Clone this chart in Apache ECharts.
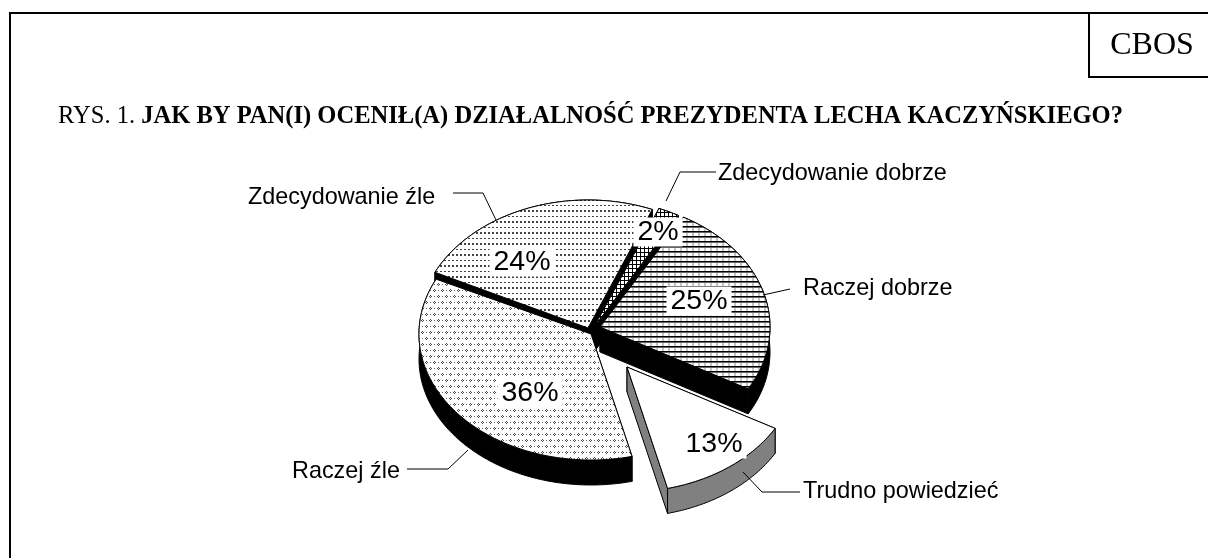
<!DOCTYPE html>
<html lang="pl">
<head>
    <meta charset="UTF-8">
    <title>CBOS rys. 1</title>
    <script src="https://cdn.jsdelivr.net/npm/echarts@6/dist/echarts.min.js"></script>
    <style>
        html, body { margin: 0; padding: 0; background: #fff; }
    </style>
</head>
<body>
<div id="main" style="width:1208px;height:558px;"></div>
<script type="text/javascript">
    // data
    const categories = ['Zdecydowanie dobrze', 'Raczej dobrze', 'Trudno powiedzieć', 'Raczej źle', 'Zdecydowanie źle'];
    const values = [2, 25, 13, 36, 24];

    // layout of the fake 3d pie, one entry per category
    const apexX = [594, 600, 627, 591, 588];
    const apexY = [327, 327, 367, 334, 328];
    const radiusX = [172, 170, 170, 172, 170];
    const radiusY = [128, 126, 125, 126, 128];
    const paintOrder = [1, 3, 5, 4, 2];   // tops, back to front
    const patternNames = ['grid', 'brick', 'none', 'dots', 'rows'];
    const sideColors = ['#000', '#000', '#808080', '#000', '#000'];
    const percentX = [658, 699, 714, 530, 522];
    const percentY = [232, 301, 444, 393, 262];
    const nameX = [718, 803, 803, 292, 248];
    const nameY = [174, 289, 492, 472, 198];
    const leaders = [
        [[716, 172], [680, 172], [666, 201]],
        [[790, 289], [763, 295]],
        [[800, 492], [762, 492], [743, 472]],
        [[407, 469], [448, 469], [468, 450]],
        [[453, 193], [483, 193], [496, 220]]
    ];
    const startAngle = 22.2;
    const depth = 25;

    // hatch tiles, fill rects are [x, y, w, h, colour]
    function tile(w, h, rects) {
        const c = document.createElement('canvas');
        c.width = w;
        c.height = h;
        const ctx = c.getContext('2d');
        ctx.fillStyle = '#fff';
        ctx.fillRect(0, 0, w, h);
        rects.forEach(function (r) {
            ctx.fillStyle = r[4];
            ctx.fillRect(r[0], r[1], r[2], r[3]);
        });
        return {image: c, repeat: 'repeat'};
    }

    const patterns = {
        none: '#fff',
        rows: tile(4, 11, [[0, 1, 2, 2, '#444'], [0, 7, 2, 1, '#444']]),
        dots: tile(8, 12, [
            [2, 1, 1, 1, '#444'], [1, 2, 1, 1, '#444'], [3, 2, 1, 1, '#444'], [2, 3, 1, 1, '#444'],
            [6, 7, 1, 1, '#444'], [5, 8, 1, 1, '#444'], [7, 8, 1, 1, '#444'], [6, 9, 1, 1, '#444'],
            [6, 2, 1, 1, '#666'], [2, 8, 1, 1, '#666']
        ]),
        brick: tile(6, 5, [[2, 0, 2, 5, '#c4c4c4'], [0, 1, 6, 1, '#000'], [0, 2, 6, 1, '#666']]),
        grid: tile(4, 4, [[0, 0, 1, 4, '#000'], [0, 0, 4, 1, '#000']])
    };

    const serif = '"Liberation Serif", "Times New Roman", serif';
    const sans = '"Liberation Sans", Arial, sans-serif';

    function arcPoints(i, from, to, shift) {
        const pts = [];
        const steps = Math.max(2, Math.ceil(to - from));
        for (let s = 0; s <= steps; s++) {
            const a = (from + (to - from) * s / steps) * Math.PI / 180;
            pts.push([apexX[i] + radiusX[i] * Math.sin(a), apexY[i] - radiusY[i] * Math.cos(a) + shift]);
        }
        return pts;
    }

    function renderSlice(params, api) {
        const i = params.dataIndex;
        const value = api.value(1);
        const total = values.reduce(function (a, b) { return a + b; }, 0);
        let before = 0;
        for (let k = 0; k < i; k++) before += values[k];
        const from = startAngle + before / total * 360;
        const to = from + value / total * 360;

        const top = arcPoints(i, from, to, 0);
        const low = arcPoints(i, from, to, depth);
        const apex = [apexX[i], apexY[i]];
        const apexLow = [apexX[i], apexY[i] + depth];
        const line = {stroke: '#000', lineWidth: 1};
        const side = Object.assign({fill: sideColors[i]}, line);

        // walls all go under every top, tops are stacked by paintOrder
        const children = [
            {type: 'polygon', z2: 10, shape: {points: [apex, top[0], low[0], apexLow]}, style: side},
            {type: 'polygon', z2: 10, shape: {points: [apex, top[top.length - 1], low[low.length - 1], apexLow]}, style: side},
            {type: 'polygon', z2: 11, shape: {points: top.concat(low.slice().reverse())}, style: side},
            {type: 'polygon', z2: 20 + paintOrder[i], shape: {points: [apex].concat(top)}, style: Object.assign({fill: patterns[patternNames[i]]}, line)},
            {
                type: 'polyline', z2: 100, shape: {points: leaders[i]},
                style: {stroke: '#000', lineWidth: 1, fill: null}
            },
            {
                type: 'text', z2: 110,
                style: {
                    text: api.value(0), x: nameX[i], y: nameY[i], fill: '#000',
                    font: '23.4px ' + sans, textAlign: 'left', textVerticalAlign: 'middle'
                }
            },
            {
                type: 'text', z2: 120,
                style: {
                    text: value + '%', x: percentX[i], y: percentY[i], fill: '#000',
                    font: '28.5px ' + sans, textAlign: 'center', textVerticalAlign: 'middle',
                    backgroundColor: '#fff', padding: [0, 4, 0, 4]
                }
            }
        ];
        return {type: 'group', children: children};
    }

    const myChart = echarts.init(document.getElementById('main'), null, {renderer: 'canvas'});

    const option = {
        animation: false,
        backgroundColor: '#fff',
        title: {
            left: 58,
            top: 104,
            padding: 0,
            text: '{a|RYS. 1. }{b|JAK BY PAN(I) OCENIŁ(A) DZIAŁALNOŚĆ PREZYDENTA LECHA KACZYŃSKIEGO?}',
            textStyle: {
                rich: {
                    a: {fontFamily: serif, fontSize: 24.55, fontWeight: 'normal', color: '#000'},
                    b: {fontFamily: serif, fontSize: 24.55, fontWeight: 'bold', color: '#000'}
                }
            }
        },
        graphic: [
            {type: 'line', shape: {x1: 10, y1: 13, x2: 1208, y2: 13}, style: {stroke: '#000', lineWidth: 2}},
            {type: 'line', shape: {x1: 10, y1: 12, x2: 10, y2: 558}, style: {stroke: '#000', lineWidth: 2}},
            {type: 'line', shape: {x1: 1089, y1: 13, x2: 1089, y2: 78}, style: {stroke: '#000', lineWidth: 2}},
            {type: 'line', shape: {x1: 1088, y1: 77, x2: 1208, y2: 77}, style: {stroke: '#000', lineWidth: 2}},
            {
                type: 'text', x: 1152, y: 46,
                style: {text: 'CBOS', fill: '#000', font: '32px ' + serif, textAlign: 'center', textVerticalAlign: 'middle'}
            }
        ],
        series: [{
            type: 'custom',
            coordinateSystem: 'none',
            silent: true,
            clip: false,
            renderItem: renderSlice,
            data: categories.map(function (name, i) { return [name, values[i]]; }),
            dimensions: [{name: 'name', type: 'ordinal'}, {name: 'value', type: 'number'}]
        }]
    };

    myChart.setOption(option);
</script>
</body>
</html>
